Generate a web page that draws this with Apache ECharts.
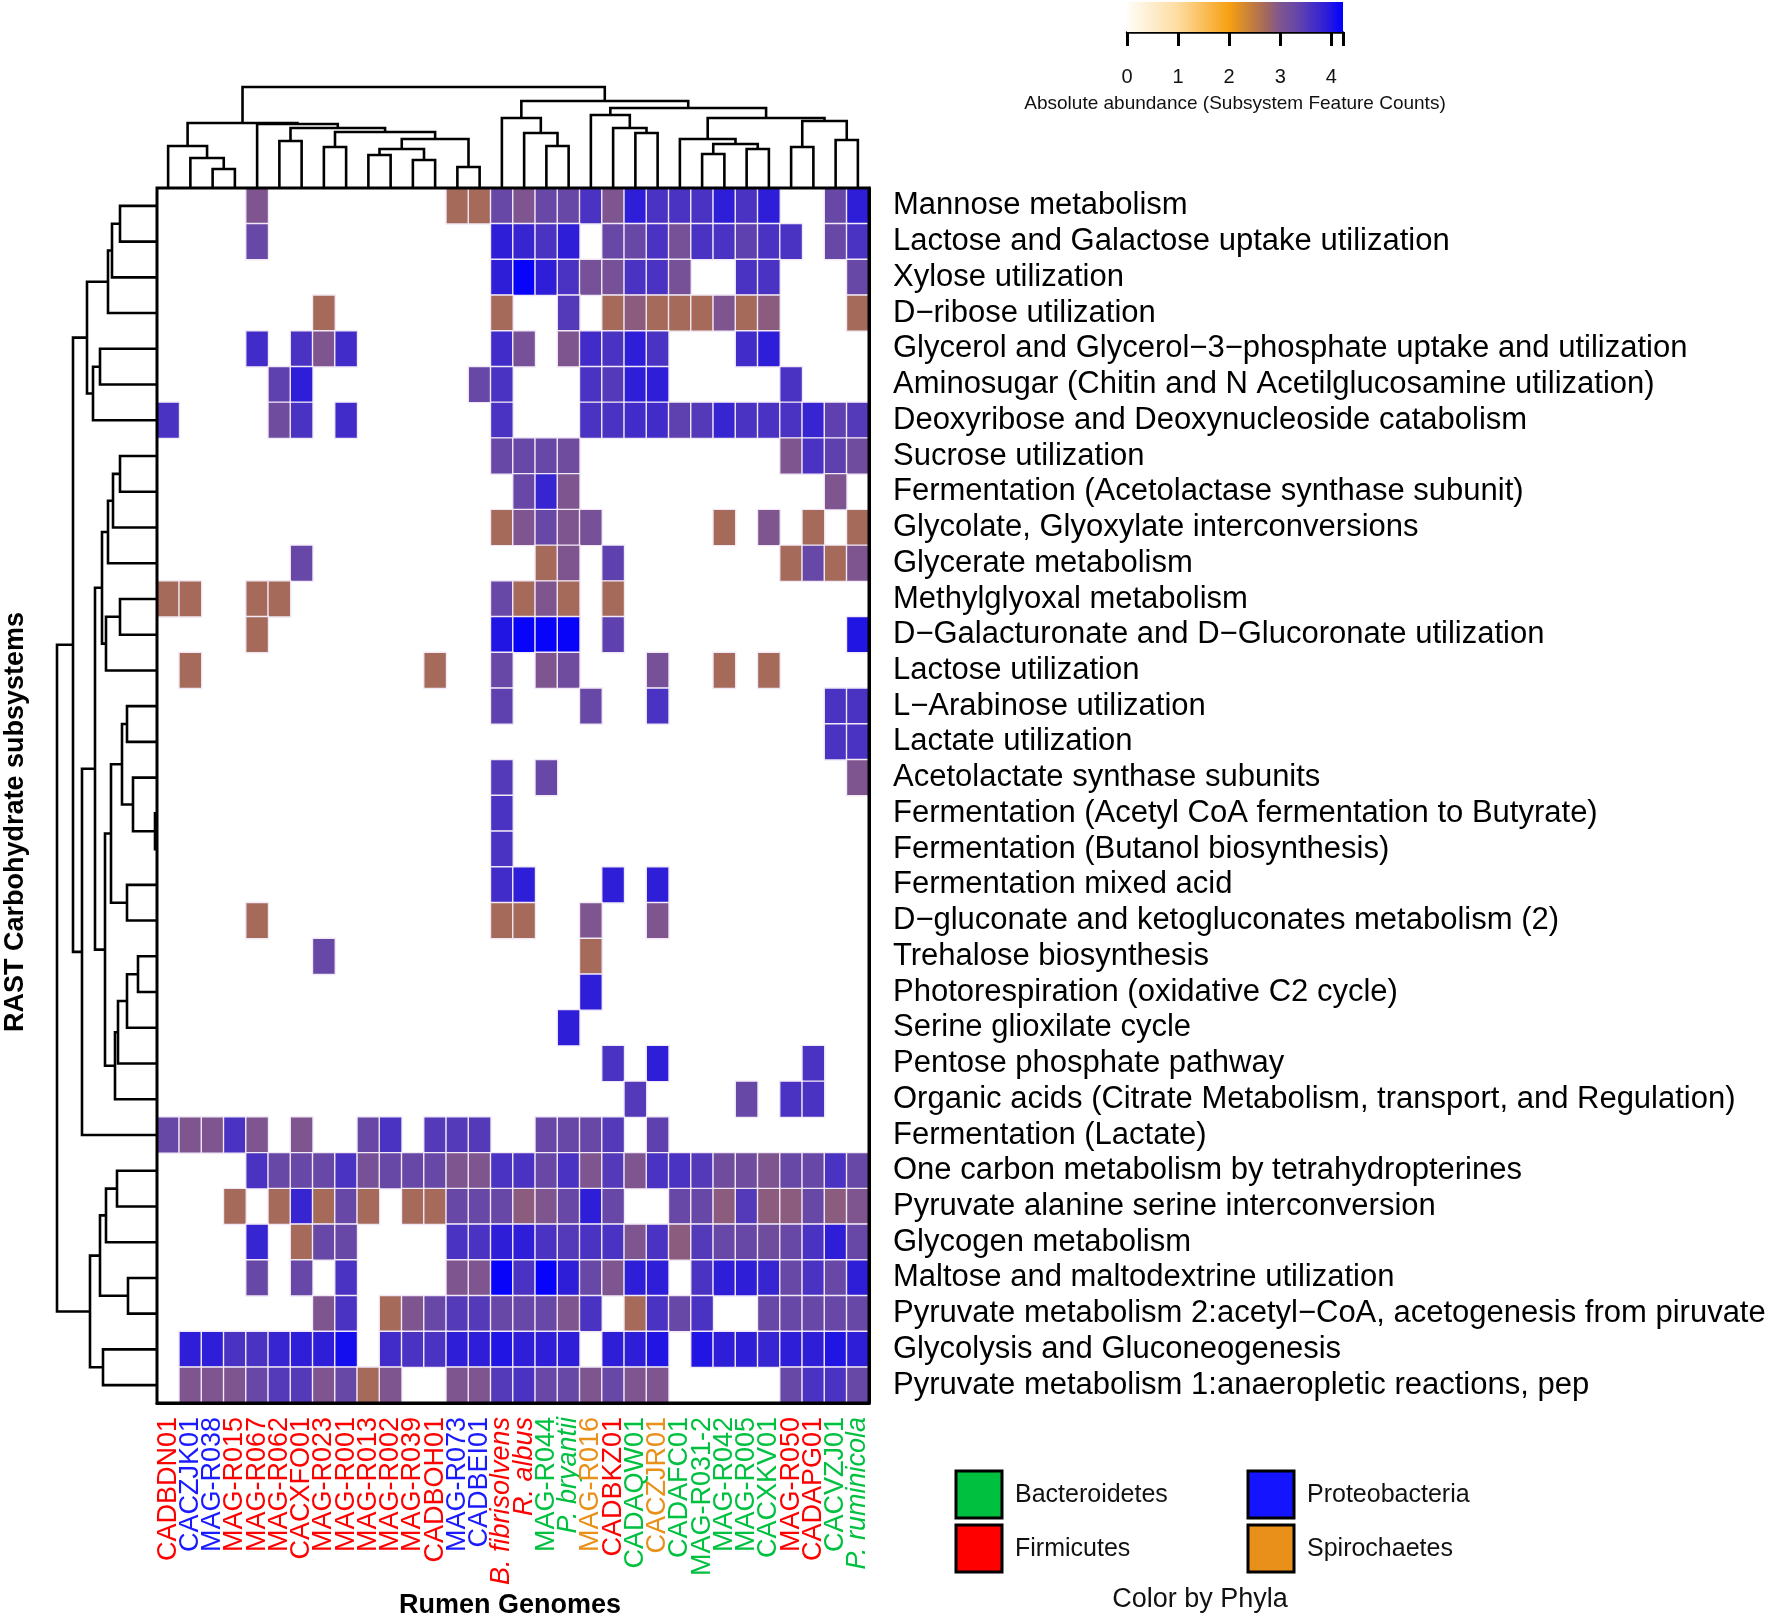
<!DOCTYPE html>
<html>
<head>
<meta charset="utf-8">
<script src="https://cdn.jsdelivr.net/npm/echarts@6/dist/echarts.min.js"></script>
<style>
html,body{margin:0;padding:0;background:#fff;}
#chart{width:1772px;height:1618px;}
</style>
</head>
<body>
<div id="chart"></div>
<script>
// ---------------- DATA ----------------
const genomes = ["CADBDN01","CACZJK01","MAG-R038","MAG-R015","MAG-R067","MAG-R062","CACXFO01","MAG-R023",
  "MAG-R001","MAG-R013","MAG-R002","MAG-R039","CADBOH01","MAG-R073","CADBEI01","B. fibrisolvens",
  "R. albus","MAG-R044","P. bryantii","MAG-R016","CADBKZ01","CADAQW01","CACZJR01","CADAFC01",
  "MAG-R031-2","MAG-R042","MAG-R005","CACXKV01","MAG-R050","CADAPG01","CACVZJ01","P. ruminicola"];
// F = Firmicutes, P = Proteobacteria, B = Bacteroidetes, S = Spirochaetes
const genomePhyla = ["F","P","P","F","F","F","F","F","F","F","F","F","F","P","P","F",
  "F","B","B","S","F","B","S","B","B","B","B","B","F","F","B","B"];
const italicGenomes = ["B. fibrisolvens","R. albus","P. bryantii","P. ruminicola"];

const subsystems = [
  "Mannose metabolism",
  "Lactose and Galactose uptake utilization",
  "Xylose utilization",
  "D\u2212ribose utilization",
  "Glycerol and Glycerol\u22123\u2212phosphate uptake and utilization",
  "Aminosugar (Chitin and N Acetilglucosamine utilization)",
  "Deoxyribose and Deoxynucleoside catabolism",
  "Sucrose utilization",
  "Fermentation (Acetolactase synthase subunit)",
  "Glycolate, Glyoxylate interconversions",
  "Glycerate metabolism",
  "Methylglyoxal metabolism",
  "D\u2212Galacturonate and D\u2212Glucoronate utilization",
  "Lactose utilization",
  "L\u2212Arabinose utilization",
  "Lactate utilization",
  "Acetolactate synthase subunits",
  "Fermentation (Acetyl CoA fermentation to Butyrate)",
  "Fermentation (Butanol biosynthesis)",
  "Fermentation mixed acid",
  "D\u2212gluconate and ketogluconates metabolism (2)",
  "Trehalose biosynthesis",
  "Photorespiration (oxidative C2 cycle)",
  "Serine glioxilate cycle",
  "Pentose phosphate pathway",
  "Organic acids (Citrate Metabolism, transport, and Regulation)",
  "Fermentation (Lactate)",
  "One carbon metabolism by tetrahydropterines",
  "Pyruvate alanine serine interconversion",
  "Glycogen metabolism",
  "Maltose and maltodextrine utilization",
  "Pyruvate metabolism 2:acetyl\u2212CoA, acetogenesis from piruvate",
  "Glycolysis and Gluconeogenesis",
  "Pyruvate metabolism 1:anaeropletic reactions, pep"
];

// abundance per subsystem (row) x genome (column); 0 = absent
const abundance = [
  [0,0,0,0,3.0,0,0,0,0,0,0,0,0,2.7,2.7,3.3,3.0,3.3,3.3,3.6,3.0,3.9,3.6,3.6,3.6,3.9,3.6,3.9,0,0,3.3,3.9],
  [0,0,0,0,3.3,0,0,0,0,0,0,0,0,0,0,3.9,3.8,3.6,3.9,0,3.3,3.3,3.6,3.1,3.6,3.6,3.4,3.6,3.6,0,3.3,3.6],
  [0,0,0,0,0,0,0,0,0,0,0,0,0,0,0,3.9,4.2,3.9,3.6,3.1,3.1,3.6,3.6,3.1,0,0,3.6,3.6,0,0,0,3.3],
  [0,0,0,0,0,0,0,2.7,0,0,0,0,0,0,0,2.7,0,0,3.5,0,2.7,2.9,2.7,2.7,2.7,3.0,2.7,2.9,0,0,0,2.7],
  [0,0,0,0,3.7,0,3.6,3.0,3.7,0,0,0,0,0,0,3.7,3.1,0,3.0,3.7,3.6,3.9,3.6,0,0,0,3.7,3.9,0,0,0,0],
  [0,0,0,0,0,3.4,3.9,0,0,0,0,0,0,0,3.3,3.6,0,0,0,3.6,3.5,3.9,3.9,0,0,0,0,0,3.6,0,0,0],
  [3.6,0,0,0,0,3.2,3.6,0,3.7,0,0,0,0,0,0,3.6,0,0,0,3.6,3.6,3.7,3.7,3.4,3.5,3.8,3.6,3.6,3.6,3.8,3.4,3.5],
  [0,0,0,0,0,0,0,0,0,0,0,0,0,0,0,3.3,3.3,3.3,3.2,0,0,0,0,0,0,0,0,0,3.0,3.6,3.4,3.2],
  [0,0,0,0,0,0,0,0,0,0,0,0,0,0,0,0,3.3,3.8,3.0,0,0,0,0,0,0,0,0,0,0,0,3.0,0],
  [0,0,0,0,0,0,0,0,0,0,0,0,0,0,0,2.7,3.0,3.3,3.0,3.1,0,0,0,0,0,2.7,0,3.0,0,2.7,0,2.7],
  [0,0,0,0,0,0,3.3,0,0,0,0,0,0,0,0,0,0,2.7,3.0,0,3.4,0,0,0,0,0,0,0,2.7,3.3,2.7,3.0],
  [2.7,2.7,0,0,2.7,2.7,0,0,0,0,0,0,0,0,0,3.3,2.7,3.0,2.7,0,2.7,0,0,0,0,0,0,0,0,0,0,0],
  [0,0,0,0,2.7,0,0,0,0,0,0,0,0,0,0,4.0,4.2,4.2,4.2,0,3.4,0,0,0,0,0,0,0,0,0,0,4.0],
  [0,2.7,0,0,0,0,0,0,0,0,0,0,2.7,0,0,3.3,0,3.0,3.2,0,0,0,3.1,0,0,2.7,0,2.7,0,0,0,0],
  [0,0,0,0,0,0,0,0,0,0,0,0,0,0,0,3.4,0,0,0,3.3,0,0,3.6,0,0,0,0,0,0,0,3.6,3.6],
  [0,0,0,0,0,0,0,0,0,0,0,0,0,0,0,0,0,0,0,0,0,0,0,0,0,0,0,0,0,0,3.6,3.6],
  [0,0,0,0,0,0,0,0,0,0,0,0,0,0,0,3.5,0,3.3,0,0,0,0,0,0,0,0,0,0,0,0,0,3.0],
  [0,0,0,0,0,0,0,0,0,0,0,0,0,0,0,3.6,0,0,0,0,0,0,0,0,0,0,0,0,0,0,0,0],
  [0,0,0,0,0,0,0,0,0,0,0,0,0,0,0,3.6,0,0,0,0,0,0,0,0,0,0,0,0,0,0,0,0],
  [0,0,0,0,0,0,0,0,0,0,0,0,0,0,0,3.7,3.9,0,0,0,3.9,0,3.9,0,0,0,0,0,0,0,0,0],
  [0,0,0,0,2.7,0,0,0,0,0,0,0,0,0,0,2.7,2.7,0,0,3.0,0,0,3.0,0,0,0,0,0,0,0,0,0],
  [0,0,0,0,0,0,0,3.3,0,0,0,0,0,0,0,0,0,0,0,2.7,0,0,0,0,0,0,0,0,0,0,0,0],
  [0,0,0,0,0,0,0,0,0,0,0,0,0,0,0,0,0,0,0,3.9,0,0,0,0,0,0,0,0,0,0,0,0],
  [0,0,0,0,0,0,0,0,0,0,0,0,0,0,0,0,0,0,3.9,0,0,0,0,0,0,0,0,0,0,0,0,0],
  [0,0,0,0,0,0,0,0,0,0,0,0,0,0,0,0,0,0,0,0,3.6,0,3.9,0,0,0,0,0,0,3.6,0,0],
  [0,0,0,0,0,0,0,0,0,0,0,0,0,0,0,0,0,0,0,0,0,3.5,0,0,0,0,3.3,0,3.6,3.6,0,0],
  [3.3,3.0,3.0,3.6,3.0,0,3.0,0,0,3.3,3.6,0,3.5,3.5,3.5,0,0,3.3,3.3,3.3,3.5,0,3.4,0,0,0,0,0,0,0,0,0],
  [0,0,0,0,3.6,3.3,3.3,3.3,3.6,3.1,3.3,3.3,3.3,3.0,3.0,3.6,3.6,3.3,3.6,3.0,3.5,3.0,3.6,3.6,3.5,3.2,3.2,3.0,3.3,3.3,3.6,3.3],
  [0,0,0,2.7,0,2.7,3.8,2.7,3.3,2.7,0,2.7,2.7,3.3,3.3,3.3,2.9,3.0,3.3,3.9,3.3,0,0,3.3,3.3,2.9,3.5,2.9,2.9,3.3,2.9,3.0],
  [0,0,0,0,3.8,0,2.7,3.3,3.3,0,0,0,0,3.6,3.6,3.9,3.9,3.6,3.5,3.6,3.6,3.0,3.6,2.9,3.5,3.3,3.3,3.2,3.3,3.6,3.9,3.3],
  [0,0,0,0,3.3,0,3.3,0,3.6,0,0,0,0,3.0,3.0,4.2,3.6,4.2,3.9,3.3,3.0,3.9,3.9,0,3.6,3.9,3.9,3.8,3.3,3.6,3.3,3.9],
  [0,0,0,0,0,0,0,3.0,3.6,0,2.7,3.0,3.3,3.5,3.5,3.3,3.3,3.3,3.0,3.6,0,2.7,3.6,3.3,3.6,0,0,3.3,3.3,3.3,3.3,3.3],
  [0,3.9,3.9,3.6,3.6,3.8,3.9,3.9,4.1,0,3.7,3.6,3.6,3.9,3.9,4.0,3.9,3.9,3.9,0,3.9,3.9,4.0,0,4.0,3.9,3.9,3.8,3.9,3.9,4.0,3.9],
  [0,3.0,3.0,3.0,3.3,3.5,3.5,3.0,3.3,2.7,3.0,0,0,3.0,3.0,3.5,3.6,3.3,3.3,3.0,3.3,3.0,3.0,0,0,0,0,0,3.3,3.6,3.6,3.3]
];

// dendrograms: [left, right, mergeHeight]; integers are leaf indices
const genomeTree = [
  [[0,[1,[2,3,19],30],42],
   [4,[[5,6,47],[[7,8,41],[[[9,10,33],[11,12,28],39],[13,14,21],49],56],60],64],65],
  [[15,[16,[17,18,42],55],70],
   [[19,[20,[21,22,55],60],73],
    [[23,[[24,25,34],[26,27,39],44],49],[[28,29,41],[30,31,48],67],70],80],87],
  101];
const subsystemTree = [
  [[[[[0,1,37],2,45],3,49],[[4,5,57],6,64],70],
   [[[[[[7,8,37],9,44],10,49],[[11,12,37],13,51],55],
      [[[[14,15,30],[16,[17,18,2],24],35],[19,20,30],46],
       [[[[21,22,19],23,30],24,39],25,42],52],62],26,75],84],
  [[[[27,28,40],29,51],[30,31,29],57],[32,33,54],67],
  100];

const colorTicks = [0,1,2,3,4];
const colorStops = [[0,'#fffdf8'],[1,'#fddca0'],[2,'#f6a012'],[2.7,'#a66a5a'],[3.0,'#7f5590'],
  [3.3,'#6848a6'],[3.6,'#4a32c2'],[3.9,'#2e1ed8'],[4.25,'#0000ff']];
const phylaLegend = [["Bacteroidetes","#00c040"],["Firmicutes","#ff0000"],["Proteobacteria","#1414ff"],["Spirochaetes","#e8901a"]];

// ---------------- HELPERS ----------------
const FONT = "'Liberation Sans', Arial, Helvetica, sans-serif";
const phylaColor = {F:'#ff0000',P:'#1a1aff',B:'#00c040',S:'#e8901a'};

function hex2rgb(h){return [parseInt(h.substr(1,2),16),parseInt(h.substr(3,2),16),parseInt(h.substr(5,2),16)];}
function colorAt(v){
  for(let i=0;i<colorStops.length-1;i++){
    const [v0,c0]=colorStops[i],[v1,c1]=colorStops[i+1];
    if(v<=v1){
      const t=Math.max(0,(v-v0)/(v1-v0));const a=hex2rgb(c0),b=hex2rgb(c1);
      return 'rgb('+a.map((x,k)=>Math.round(x+(b[k]-x)*t)).join(',')+')';
    }
  }
  return colorStops[colorStops.length-1][1];
}
const vmMax = 4.25, vmSteps = 85;
const vmColors = [];
for(let i=0;i<=vmSteps;i++) vmColors.push(colorAt(vmMax*i/vmSteps));

function dendro(tree, swap){
  const segs=[];
  function walk(n){
    if(typeof n==='number') return {p:n,h:0};
    const a=walk(n[0]), b=walk(n[1]), h=n[2];
    let pts=[[a.p,a.h],[a.p,h],[b.p,h],[b.p,b.h]];
    if(swap) pts=pts.map(q=>[q[1],q[0]]);
    segs.push({coords:pts});
    return {p:(a.p+b.p)/2,h:h};
  }
  walk(tree);
  return segs;
}

const heatData=[];
abundance.forEach((row,r)=>row.forEach((v,c)=>{ if(v>0) heatData.push([c,r,v]); }));

// heatmap geometry
const HL=157, HT=188, HW=712, HH=1215;

const COLFS=27;
const rich={};
Object.keys(phylaColor).forEach(k=>{
  rich[k]={color:phylaColor[k],fontSize:COLFS,fontFamily:FONT};
  rich[k+'i']={color:phylaColor[k],fontSize:COLFS,fontFamily:FONT,fontStyle:'italic'};
});

const cbL=1127, cbW=216, cbT=2, cbH=30, cbMax=4.23;

const option={
  animation:false,
  backgroundColor:'#ffffff',
  textStyle:{fontFamily:FONT},
  grid:[
    {left:HL,top:HT,width:HW,height:HH,show:false},
    {left:HL,top:HT-108,width:HW,height:108,show:false},
    {left:HL-108,top:HT,width:108,height:HH,show:false},
    {left:cbL,top:cbT,width:cbW,height:cbH,show:false}
  ],
  xAxis:[
    {type:'category',gridIndex:0,data:genomes,position:'bottom',
     axisLine:{lineStyle:{color:'#000',width:3}},
     axisTick:{alignWithLabel:true,length:8,lineStyle:{color:'#000',width:2.5}},
     axisLabel:{interval:0,rotate:90,margin:14,
       formatter:function(v,i){const k=genomePhyla[i]+(italicGenomes.indexOf(v)>=0?'i':'');return '{'+k+'|'+v+'}';},
       rich:rich},
     splitLine:{show:false}},
    {type:'value',gridIndex:1,min:-0.5,max:genomes.length-0.5,show:false},
    {type:'value',gridIndex:2,min:0,max:108,inverse:true,show:false},
    {type:'value',gridIndex:3,min:0,max:cbMax,interval:1,position:'bottom',
     axisLine:{lineStyle:{color:'#000',width:2.5}},
     axisTick:{length:14,lineStyle:{color:'#000',width:3}},
     axisLabel:{fontSize:20,color:'#111',margin:35,fontFamily:FONT,
       formatter:function(v){return colorTicks.indexOf(v)>=0?String(v):'';}},
     splitLine:{show:false}}
  ],
  yAxis:[
    {type:'category',gridIndex:0,data:subsystems,inverse:true,position:'right',
     axisLine:{lineStyle:{color:'#000',width:3}},
     axisTick:{alignWithLabel:true,length:11,lineStyle:{color:'#000',width:3}},
     axisLabel:{interval:0,fontSize:31,color:'#000',margin:24,fontFamily:FONT,padding:[4,0,0,0]},
     splitLine:{show:false}},
    {type:'value',gridIndex:1,min:0,max:108,show:false},
    {type:'value',gridIndex:2,min:-0.5,max:subsystems.length-0.5,inverse:true,show:false},
    {type:'value',gridIndex:3,min:0,max:1,show:false}
  ],
  visualMap:{type:'continuous',show:false,min:0,max:vmMax,dimension:2,seriesIndex:0,inRange:{color:vmColors}},
  series:[
    {type:'heatmap',xAxisIndex:0,yAxisIndex:0,data:heatData,
     itemStyle:{borderColor:'#f1e9f6',borderWidth:1.4},
     emphasis:{disabled:true}},
    {type:'lines',coordinateSystem:'cartesian2d',xAxisIndex:1,yAxisIndex:1,polyline:true,
     data:dendro(genomeTree,false),lineStyle:{color:'#000',width:2.6,opacity:1},silent:true},
    {type:'lines',coordinateSystem:'cartesian2d',xAxisIndex:2,yAxisIndex:2,polyline:true,
     data:dendro(subsystemTree,true),lineStyle:{color:'#000',width:2.6,opacity:1},silent:true}
  ],
  graphic:[]
};

// heatmap frame
option.graphic.push({type:'rect',z:100,silent:true,shape:{x:HL,y:HT,width:HW,height:HH},
  style:{fill:'none',stroke:'#000',lineWidth:3}});
// color bar
option.graphic.push({type:'rect',z:10,silent:true,shape:{x:cbL,y:cbT,width:cbW,height:cbH},
  style:{fill:new echarts.graphic.LinearGradient(0,0,1,0,
    colorStops.map(s=>({offset:Math.min(1,s[0]/cbMax),color:s[1]})))}});
option.graphic.push({type:'text',silent:true,x:1235,y:104,
  style:{text:'Absolute abundance (Subsystem Feature Counts)',font:'19px '+FONT,fill:'#111',
    textAlign:'center',textVerticalAlign:'middle'}});
// axis titles
option.graphic.push({type:'text',silent:true,x:510,y:1606,
  style:{text:'Rumen Genomes',font:'bold 27px '+FONT,fill:'#000',textAlign:'center',textVerticalAlign:'middle'}});
option.graphic.push({type:'text',silent:true,x:16,y:822,rotation:Math.PI/2,
  style:{text:'RAST Carbohydrate subsystems',font:'bold 27px '+FONT,fill:'#000',textAlign:'center',textVerticalAlign:'middle'}});
// phyla legend
const legPos=[[956,1471],[956,1525],[1248,1471],[1248,1525]];
phylaLegend.forEach((p,i)=>{
  const [x,y]=legPos[i];
  option.graphic.push({type:'rect',silent:true,shape:{x:x,y:y,width:46,height:47},
    style:{fill:p[1],stroke:'#000',lineWidth:3}});
  option.graphic.push({type:'text',silent:true,x:x+59,y:y+24,
    style:{text:p[0],font:'25px '+FONT,fill:'#111',textAlign:'left',textVerticalAlign:'middle'}});
});
option.graphic.push({type:'text',silent:true,x:1200,y:1600,
  style:{text:'Color by Phyla',font:'27px '+FONT,fill:'#111',textAlign:'center',textVerticalAlign:'middle'}});

const chart=echarts.init(document.getElementById('chart'),null,{renderer:'canvas'});
chart.setOption(option);
</script>
</body>
</html>
